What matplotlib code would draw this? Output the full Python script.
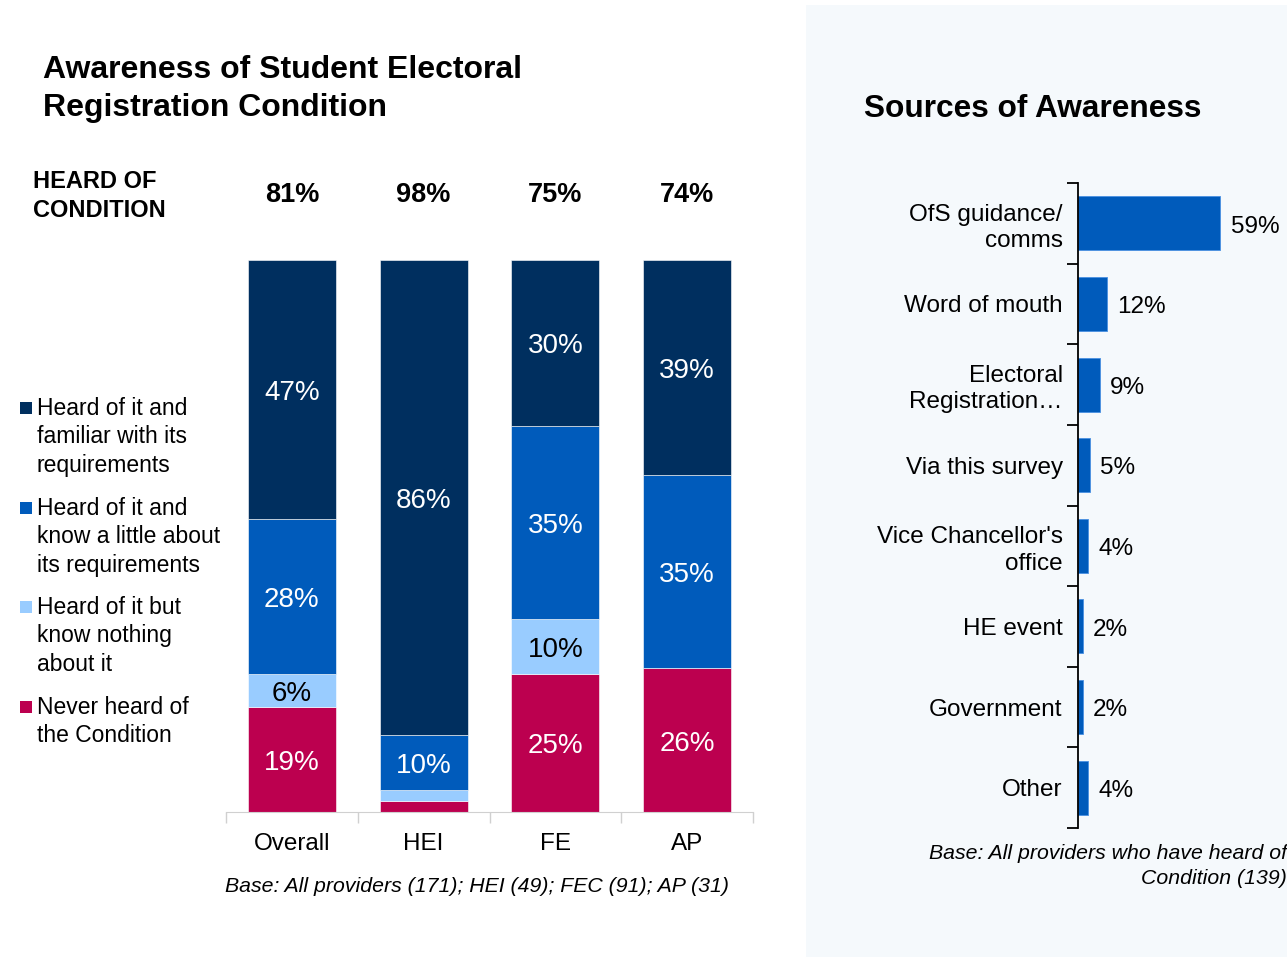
import numpy as np
import matplotlib.pyplot as plt
from matplotlib.patches import Rectangle

plt.rcParams['font.family'] = ['Liberation Sans', 'DejaVu Sans']

# left panel: awareness by provider type
providers = ['Overall', 'HEI', 'FE', 'AP']
heard_total = ['81%', '98%', '75%', '74%']
never_heard = [19, 2, 25, 26]
know_nothing = [6, 2, 10, 0]
know_little = [28, 10, 35, 35]
familiar = [47, 86, 30, 39]

# right panel: sources of awareness
sources = ['OfS guidance/\ncomms', 'Word of mouth', 'Electoral\nRegistration\u2026',
           'Via this survey', "Vice Chancellor's\noffice", 'HE event',
           'Government', 'Other']
source_pct = [59, 12, 9, 5, 4, 2, 2, 4]

c_dark = '#002F5F'
c_blue = '#005BBB'
c_light = '#99CCFF'
c_red = '#BC004F'

W, H = 1287, 957
fig = plt.figure(figsize=(W / 100, H / 100), dpi=100)


def fx(px):
    return px / W


def fy(py):
    return 1 - py / H


# light panel behind the right-hand chart
fig.patches.append(Rectangle((fx(806), 0), fx(W - 806), fy(5), transform=fig.transFigure,
                             facecolor='#F5F9FC', edgecolor='none', zorder=-1))

# ---- stacked bars ----
ax = fig.add_axes([fx(226), fy(812), fx(527), (812 - 260) / H])
x = np.arange(len(providers))
segments = [(never_heard, c_red, 'Never heard of\nthe Condition'),
            (know_nothing, c_light, 'Heard of it but\nknow nothing\nabout it'),
            (know_little, c_blue, 'Heard of it and\nknow a little about\nits requirements'),
            (familiar, c_dark, 'Heard of it and\nfamiliar with its\nrequirements')]
bottom = np.zeros(len(providers))
for vals, col, lab in segments:
    vals = np.array(vals, dtype=float)
    ax.bar(x, vals, bottom=bottom, width=0.668, color=col, edgecolor='white',
           linewidth=0.4)
    for xi, v, b in zip(x, vals, bottom):
        if v >= 5:
            txt_col = 'black' if col == c_light else 'white'
            ax.text(xi, b + v / 2 - 0.6, f'{v:.0f}%', ha='center', va='center',
                    fontsize=20, color=txt_col)
    bottom += vals

ax.set_xlim(-0.5, 3.5)
ax.set_ylim(0, 100)
ax.set_xticks(x)
ax.set_xticklabels(providers, fontsize=17.5)
ax.tick_params(axis='x', length=0, pad=15)
ax.set_xticks(np.arange(-0.5, 4, 1), minor=True)
ax.tick_params(axis='x', which='minor', length=8, color='#D0D0D0', width=1)
ax.set_yticks([])
for s in ['top', 'right', 'left']:
    ax.spines[s].set_visible(False)
ax.spines['bottom'].set_color('#D0D0D0')

# heard-of-condition totals above the bars
for xi, t in zip(x, heard_total):
    fig.text(fx(226 + 131.75 * (xi + 0.5)), fy(195), t, ha='center', va='center',
             fontsize=19.5, fontweight='bold')
fig.text(fx(33), fy(196), 'HEARD OF\nCONDITION', ha='left', va='center',
         fontsize=17, fontweight='bold', linespacing=1.3)

fig.text(fx(43), fy(89), 'Awareness of Student Electoral\nRegistration Condition',
         ha='left', va='center', fontsize=23, fontweight='bold', linespacing=1.38)

# legend drawn as separate entries, darkest first
legend_y = [408, 508, 607, 707]
for (vals, col, lab), ly in zip(segments[::-1], legend_y):
    fig.patches.append(Rectangle((fx(20), fy(ly + 6)), fx(12), 12 / H,
                                 transform=fig.transFigure, facecolor=col,
                                 edgecolor='none'))
    fig.text(fx(37), fy(ly - 11), lab, ha='left', va='top', fontsize=16.5,
             linespacing=1.3)

fig.text(fx(477), fy(886), 'Base: All providers (171); HEI (49); FEC (91); AP (31)',
         ha='center', va='center', fontsize=15.3, style='italic')

# ---- horizontal bars ----
ax2 = fig.add_axes([fx(1078), fy(828), fx(W - 1078), (828 - 183) / H])
ax2.set_facecolor('none')
y = np.arange(len(sources))
ax2.barh(y, source_pct, height=0.67, color=c_blue, edgecolor='#4A90E2', linewidth=0.6)
for yi, v in zip(y, source_pct):
    ax2.text(v + 4.3, yi + 0.04, f'{v}%', ha='left', va='center', fontsize=17.5)
ax2.set_xlim(0, 86.7)
ax2.set_ylim(7.5, -0.5)
ax2.set_yticks(y)
ax2.set_yticklabels(sources, fontsize=17.5, linespacing=1.25)
ax2.tick_params(axis='y', length=0, pad=11)
ax2.set_yticks(np.arange(-0.5, 8, 1), minor=True)
ax2.tick_params(axis='y', which='minor', length=8, width=1.3, color='black')
ax2.set_xticks([])
for s in ['top', 'right', 'bottom']:
    ax2.spines[s].set_visible(False)
ax2.spines['left'].set_linewidth(1.3)

fig.text(fx(1033), fy(109), 'Sources of Awareness', ha='center', va='center',
         fontsize=22.8, fontweight='bold')
fig.text(fx(1287), fy(866), 'Base: All providers who have heard of\nCondition (139)',
         ha='right', va='center', fontsize=15.3, style='italic', linespacing=1.35)

fig.savefig('out.png', dpi=100)
